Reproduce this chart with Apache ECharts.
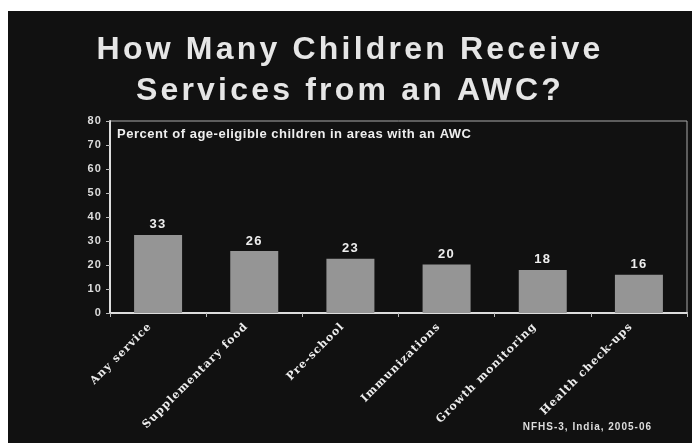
<!DOCTYPE html>
<html>
<head>
<meta charset="utf-8">
<script src="https://cdn.jsdelivr.net/npm/echarts@6/dist/echarts.min.js"></script>
<style>
  html, body { margin: 0; padding: 0; background: #fff; }
  #chart { position: absolute; left: 8px; top: 11px; width: 684px; height: 432px; }
</style>
</head>
<body>
<div id="chart"></div>
<script>
const categories = ["Any service", "Supplementary food", "Pre-school", "Immunizations", "Growth monitoring", "Health check-ups"];
const percentValues = [32.5, 25.8, 22.6, 20.2, 17.9, 15.9];
const yTicks = [0, 80, 10]; // min, max, step

// the slide uses tracked-out lettering; canvas letterSpacing scaled by font size
// (a "tight" fallback family in the font list asks for less tracking)
const fontDesc = Object.getOwnPropertyDescriptor(CanvasRenderingContext2D.prototype, "font");
Object.defineProperty(CanvasRenderingContext2D.prototype, "font", {
  get() { return fontDesc.get.call(this); },
  set(v) {
    fontDesc.set.call(this, v);
    const m = /(\d+(\.\d+)?)px/.exec(v);
    const k = /tight/.test(v) ? 0.04 : 0.1;
    this.letterSpacing = m ? (parseFloat(m[1]) * k).toFixed(1) + "px" : "0px";
  }
});

const chart = echarts.init(document.getElementById("chart"));

const option = {
  backgroundColor: "#111111",
  animation: false,
  title: {
    text: "How Many Children Receive\nServices from an AWC?",
    left: "center",
    top: 14,
    textStyle: {
      color: "#e6e6e6",
      fontFamily: "Liberation Sans",
      fontWeight: "bold",
      fontSize: 32,
      lineHeight: 41,
      textShadowColor: "#555",
      textShadowOffsetX: 2,
      textShadowOffsetY: 2,
      textShadowBlur: 0
    }
  },
  graphic: [
    {
      type: "text",
      left: 109,
      top: 117,
      style: {
        text: "Percent of age-eligible children in areas with an AWC",
        fill: "#eeeeee",
        font: "bold 13px 'Liberation Sans', tight"
      }
    },
    {
      type: "text",
      right: 40,
      top: 411,
      style: {
        text: "NFHS-3, India, 2005-06",
        fill: "#dddddd",
        font: "bold 10px 'Liberation Sans'"
      }
    }
  ],
  grid: {
    left: 102,
    right: 5,
    top: 110,
    bottom: 130,
    outerBoundsMode: "none",
    show: true,
    borderColor: "#aaaaaa",
    borderWidth: 1
  },
  xAxis: {
    type: "category",
    data: categories,
    axisLine: { lineStyle: { color: "#dddddd", width: 2 } },
    axisTick: { show: true, length: 4, lineStyle: { color: "#bbbbbb" } },
    axisLabel: {
      rotate: 45,
      interval: 0,
      margin: 4,
      padding: [0, 11, 11, 0],
      color: "#eeeeee",
      fontFamily: "DejaVu Serif",
      fontWeight: "bold",
      fontSize: 11
    }
  },
  yAxis: {
    type: "value",
    min: yTicks[0],
    max: yTicks[1],
    interval: yTicks[2],
    splitLine: { show: false },
    axisLine: { show: true, lineStyle: { color: "#dddddd", width: 2 } },
    axisTick: { show: true, length: 4, lineStyle: { color: "#bbbbbb" } },
    axisLabel: {
      margin: 8,
      color: "#dddddd",
      fontFamily: "Liberation Sans",
      fontWeight: "bold",
      fontSize: 11
    }
  },
  series: [
    {
      type: "bar",
      data: percentValues,
      barWidth: 48,
      itemStyle: { color: "#959595" },
      label: {
        show: true,
        position: "top",
        distance: 3,
        color: "#eeeeee",
        fontFamily: "Liberation Sans",
        fontWeight: "bold",
        fontSize: 13,
        formatter: (p) => Math.round(p.value)
      }
    }
  ]
};

chart.setOption(option);
</script>
</body>
</html>
